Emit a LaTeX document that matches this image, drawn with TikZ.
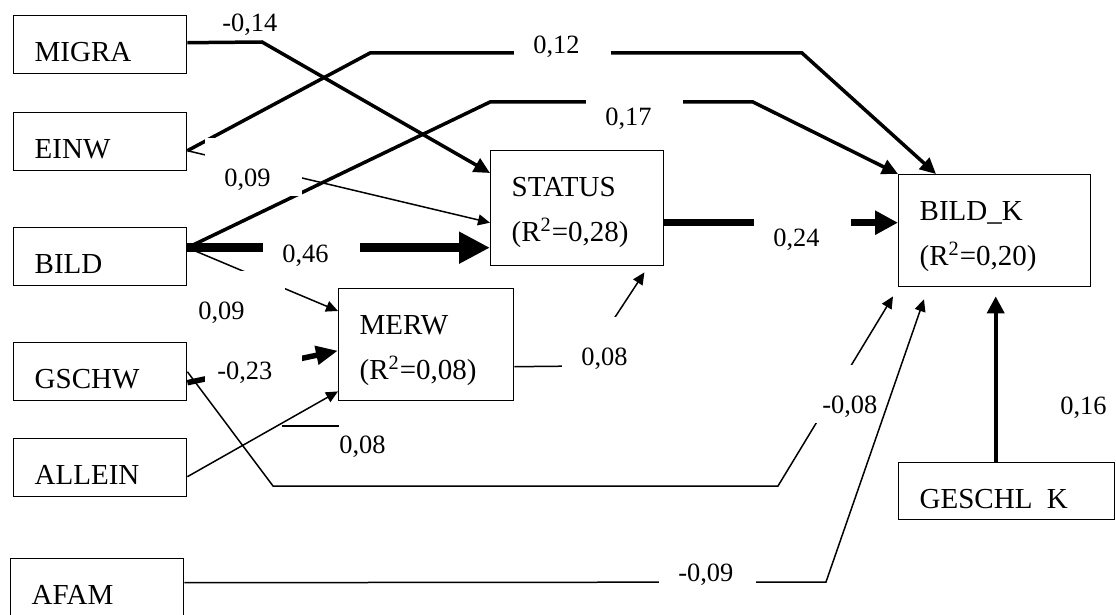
\documentclass[tikz,border=0pt]{standalone}
\usepackage{fontspec}
\setmainfont{Liberation Serif}
\usetikzlibrary{arrows.meta,calc}
\newcommand{\boxfont}{\fontsize{14.5}{22.5}\selectfont}
\newcommand{\numfont}{\fontsize{13.2}{15}\selectfont}
\tikzset{
  var/.style={draw, line width=.7pt, anchor=north west, font=\boxfont, align=left,
    text width=65.5pt, inner xsep=10.5pt, inner ysep=0pt, text height=23pt, text depth=6pt},
  coef/.style={fill=white, anchor=north west, font=\numfont, align=left,
    text width=29.5pt, inner xsep=9.5pt, inner ysep=0pt, text height=24pt, text depth=5pt},
  weakpath/.style={line width=.75pt, -{Triangle[length=6pt,width=5.5pt]}},
  medpath/.style={line width=1.75pt, -{Triangle[length=8pt,width=7.5pt]}},
  strongpath/.style={line width=2.75pt, -{Triangle[length=11pt,width=9pt]}},
  heavypath/.style={line width=3.5pt, -{Triangle[length=11.5pt,width=11.5pt]}},
  maxpath/.style={line width=4.5pt, -{Triangle[length=15.5pt,width=15pt]}},
  vertpath/.style={line width=2pt, -{Triangle[length=8.5pt,width=8.5pt]}}
}
\begin{document}
\begin{tikzpicture}[x=0.5pt, y=-0.5pt]
\useasboundingbox (0,0) rectangle (1116,615);

\node[var] (MIGRA) at (13,15) {MIGRA};
\node[var] (EINW) at (13,112) {EINW};
\node[var] (BILD) at (13,227) {BILD};
\node[var] (GSCHW) at (13,342) {GSCHW};
\node[var] (ALLEIN) at (13,438) {ALLEIN};
\node[var] (AFAM) at (10,558) {AFAM};
\node[var, text depth=34.5pt] (STATUS) at (490,150) {STATUS\\(R\textsuperscript{2}=0,28)};
\node[var, text width=66.5pt, text depth=33pt] (MERW) at (338,288) {MERW\\(R\textsuperscript{2}=0,08)};
\node[var, text width=75pt, text depth=33pt] (BILDK) at (898,174) {BILD\_K\\(R\textsuperscript{2}=0,20)};
\node[var, text width=87pt, text depth=5.5pt] (GESCHLK) at (898,462) {GESCHL\enspace K};

\coordinate (einw o) at ($(EINW.east)+(0,9)$);
\coordinate (bild o) at ($(BILD.east)+(0,-9)$);

\draw[medpath] ($(MIGRA.east)+(0,-2)$) -- (262,42) -- ($(STATUS.north west)+(0,23)$);
\draw[medpath] (einw o) -- (370,53) -- (802,53) -- ($(BILDK.north west)+(38,0)$);
\draw[medpath] (bild o) -- (490,102) -- (753,102) -- (BILDK.north west);
\draw[weakpath] (einw o) -- ($(STATUS.west)+(0,14.5)$);
\draw[maxpath] (bild o) -- ($(STATUS.west)+(0,39.5)$);
\draw[weakpath] (bild o) -- ($(MERW.north west)+(0,23)$);
\draw[strongpath] ($(GSCHW.east)+(0,11)$) -- ($(MERW.west)+(0,6)$);
\draw[weakpath] ($(MERW.east)+(0,22)$) -- (583,366) -- ($(STATUS.south east)+(-20,6)$);
\draw[weakpath] ($(ALLEIN.east)+(0,9)$) -- ($(MERW.south west)+(0,-10)$);
\draw[heavypath] ($(STATUS.east)+(0,14.5)$) -- ($(BILDK.west)+(0,-8)$);
\draw[vertpath] ($(GESCHLK.north)+(-11,0)$) -- ($(BILDK.south)+(1,9)$);
\draw[weakpath] (GSCHW.east) -- (273,486) -- (778,486) -- ($(BILDK.south west)+(-5,9)$);

\node[coef, fill=none] (c14) at (203,-17) {-0,14};
\node[coef] (c12) at (514,5) {0,12};
\node[coef] (c17) at (586,77) {0,17};
\node[coef] (c09a) at (205,138) {0,09};
\node[coef] (c46) at (263,214) {0,46};
\node[coef, inner xsep=5pt, text width=38.5pt] (c09b) at (188,271) {0,09};
\node[coef, inner xsep=6pt, text width=36.5pt] (c23) at (205,331) {-0,23};
\node[coef] (c08a) at (562,317) {0,08};
\node[coef] (c08b) at (320,405) {0,08};
\node[coef] (c24) at (754,198) {0,24};
\node[coef] (c08c) at (803,365) {-0,08};
\node[coef] (c16) at (1041,366) {0,16};

\coordinate (stub) at (282,426);
\draw[line width=.75pt] (stub) -- ++(57,0);

\draw[weakpath] ($(AFAM.east)+(0,-5)$) -- (826,582) -- ($(BILDK.south west)+(26,12)$);
\node[coef] (c09c) at (659,533) {-0,09};
\end{tikzpicture}
\end{document}
